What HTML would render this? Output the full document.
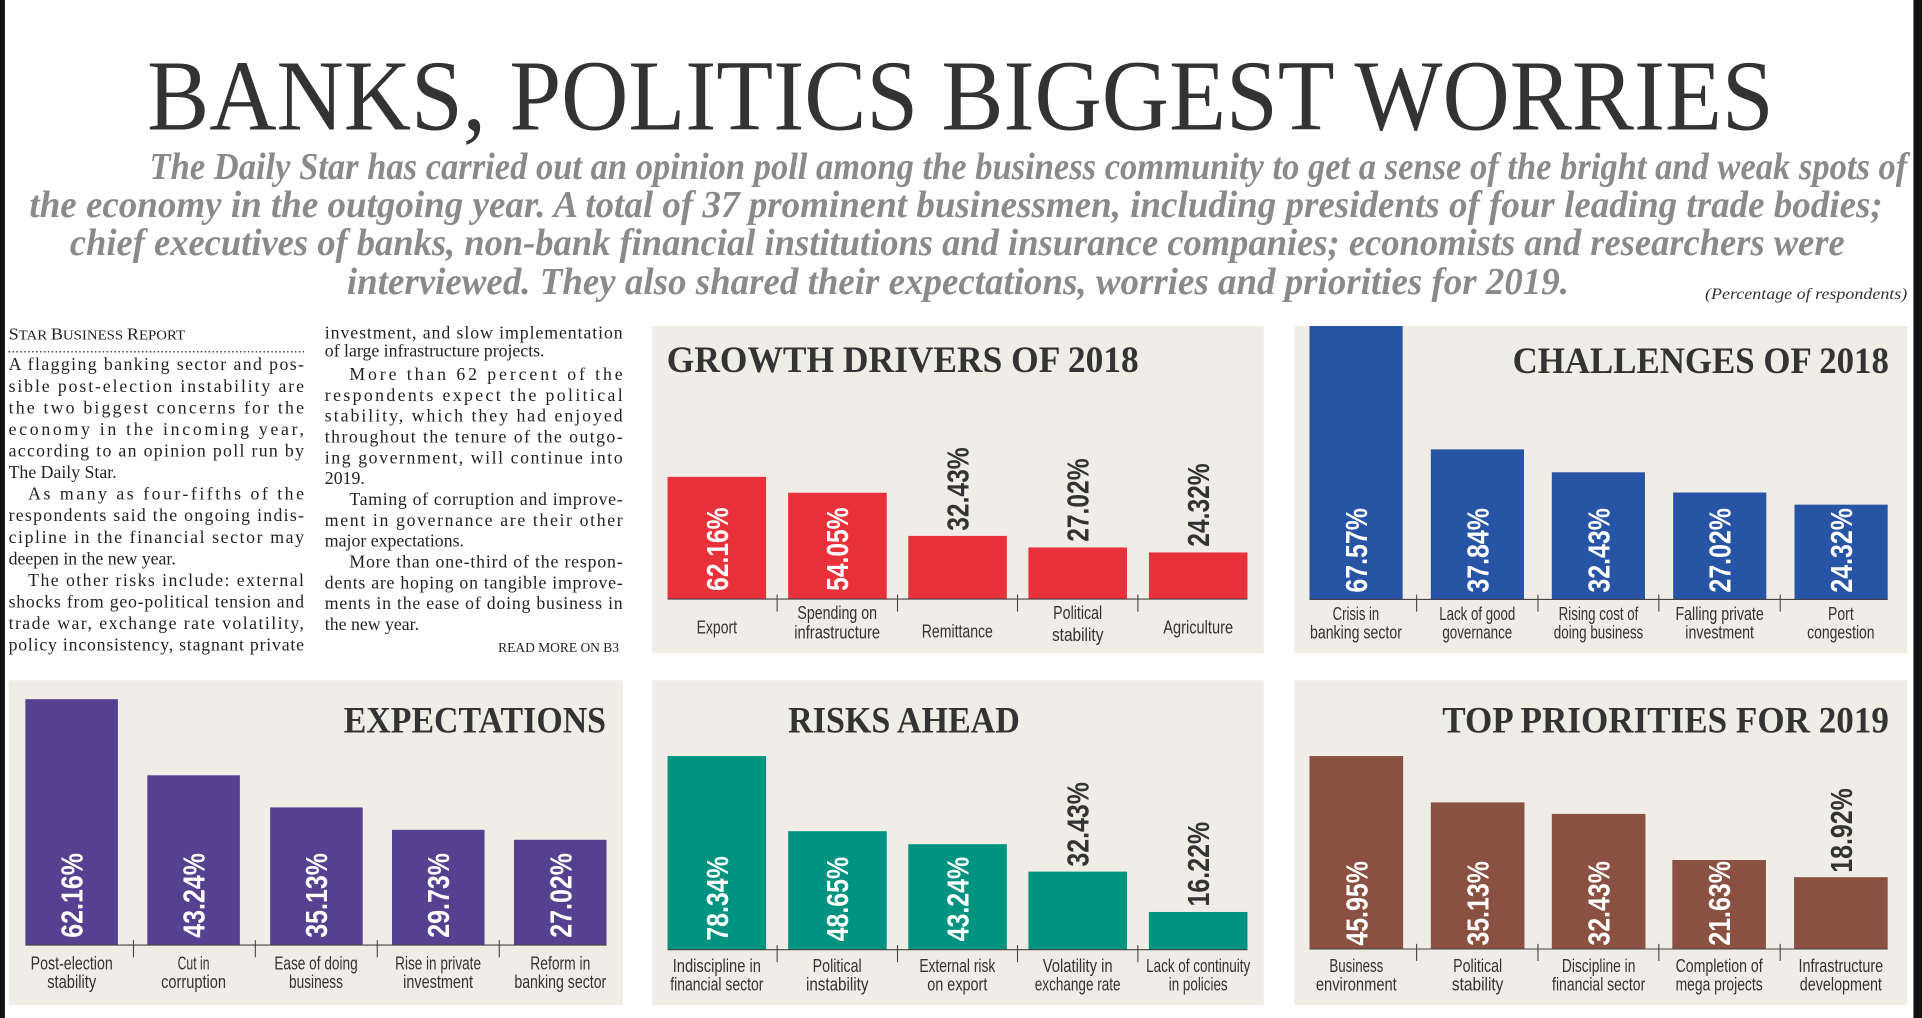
<!DOCTYPE html>
<html><head><meta charset="utf-8"><style>
html,body{margin:0;padding:0;background:#fff;}
svg{display:block;}
.ser{font-family:"Liberation Serif",serif;}
.san{font-family:"Liberation Sans Narrow","Liberation Sans",sans-serif;}
.v{font-family:"Liberation Sans",sans-serif;font-weight:bold;font-size:25px;}
.lab{font-family:"Liberation Sans Narrow","Liberation Sans",sans-serif;font-size:15px;fill:#333;text-anchor:middle;}
.tt{font-family:"Liberation Serif",serif;font-weight:bold;font-size:30px;fill:#333;}
.body{font-family:"Liberation Serif",serif;font-size:14.5px;fill:#222;}
</style></head><body>
<svg width="1922" height="1018" viewBox="0 0 1568 830.5" preserveAspectRatio="none" xmlns="http://www.w3.org/2000/svg">
<rect x="0" y="0" width="1568" height="830.5" fill="#fff"/>
<rect x="0" y="0" width="4" height="830.5" fill="#111"/>
<rect x="1561" y="0" width="7" height="830.5" fill="#111"/>

<!-- Headline -->
<text class="ser" x="120" y="105.5" font-size="82" fill="#333" textLength="1327" lengthAdjust="spacingAndGlyphs">BANKS, POLITICS BIGGEST WORRIES</text>
<g class="ser" font-style="italic" font-weight="bold" font-size="31" fill="#8a8a8a">
<text x="122" y="146" textLength="1434" lengthAdjust="spacingAndGlyphs">The Daily Star has carried out an opinion poll among the business community to get a sense of the bright and weak spots of</text>
<text x="24" y="177" textLength="1512" lengthAdjust="spacingAndGlyphs">the economy in the outgoing year. A total of 37 prominent businessmen, including presidents of four leading trade bodies;</text>
<text x="57" y="208" textLength="1448" lengthAdjust="spacingAndGlyphs">chief executives of banks, non-bank financial institutions and insurance companies; economists and researchers were</text>
<text x="283" y="240" textLength="997" lengthAdjust="spacingAndGlyphs">interviewed. They also shared their expectations, worries and priorities for 2019.</text>
</g>
<text class="ser" x="1391" y="244" font-style="italic" font-size="13" fill="#333" textLength="165" lengthAdjust="spacingAndGlyphs">(Percentage of respondents)</text>

<!-- Left text -->
<text class="ser" x="7" y="277" font-size="11.5" fill="#222" textLength="144" lengthAdjust="spacingAndGlyphs"><tspan font-size="14">S</tspan>TAR <tspan font-size="14">B</tspan>USINESS <tspan font-size="14">R</tspan>EPORT</text>
<line x1="7" y1="287" x2="248" y2="287" stroke="#444" stroke-width="1.2" stroke-dasharray="1.2 2"/>
<g class="body">
<text x="7" y="302" textLength="241" lengthAdjust="spacing">A flagging banking sector and pos-</text>
<text x="7" y="319.6" textLength="241" lengthAdjust="spacing">sible post-election instability are</text>
<text x="7" y="337.2" textLength="241" lengthAdjust="spacing">the two biggest concerns for the</text>
<text x="7" y="354.8" textLength="241" lengthAdjust="spacing">economy in the incoming year,</text>
<text x="7" y="372.4" textLength="241" lengthAdjust="spacing">according to an opinion poll run by</text>
<text x="7" y="390">The Daily Star.</text>
<text x="23" y="407.6" textLength="225" lengthAdjust="spacing">As many as four-fifths of the</text>
<text x="7" y="425.2" textLength="241" lengthAdjust="spacing">respondents said the ongoing indis-</text>
<text x="7" y="442.8" textLength="241" lengthAdjust="spacing">cipline in the financial sector may</text>
<text x="7" y="460.4">deepen in the new year.</text>
<text x="23" y="478" textLength="225" lengthAdjust="spacing">The other risks include: external</text>
<text x="7" y="495.6" textLength="241" lengthAdjust="spacing">shocks from geo-political tension and</text>
<text x="7" y="513.2" textLength="241" lengthAdjust="spacing">trade war, exchange rate volatility,</text>
<text x="7" y="530.8" textLength="241" lengthAdjust="spacing">policy inconsistency, stagnant private</text>

<text x="265" y="276" textLength="243" lengthAdjust="spacing">investment, and slow implementation</text>
<text x="265" y="291">of large infrastructure projects.</text>
<text x="285" y="310" textLength="223" lengthAdjust="spacing">More than 62 percent of the</text>
<text x="265" y="327" textLength="243" lengthAdjust="spacing">respondents expect the political</text>
<text x="265" y="344" textLength="243" lengthAdjust="spacing">stability, which they had enjoyed</text>
<text x="265" y="361" textLength="243" lengthAdjust="spacing">throughout the tenure of the outgo-</text>
<text x="265" y="378" textLength="243" lengthAdjust="spacing">ing government, will continue into</text>
<text x="265" y="395">2019.</text>
<text x="285" y="412" textLength="223" lengthAdjust="spacing">Taming of corruption and improve-</text>
<text x="265" y="429" textLength="243" lengthAdjust="spacing">ment in governance are their other</text>
<text x="265" y="446">major expectations.</text>
<text x="285" y="463" textLength="223" lengthAdjust="spacing">More than one-third of the respon-</text>
<text x="265" y="480" textLength="243" lengthAdjust="spacing">dents are hoping on tangible improve-</text>
<text x="265" y="497" textLength="243" lengthAdjust="spacing">ments in the ease of doing business in</text>
<text x="265" y="514">the new year.</text>
</g>
<text class="ser" x="505" y="532" font-size="11" fill="#222" text-anchor="end">READ MORE ON B3</text>

<!-- Panels -->
<rect x="532" y="266" width="499" height="267" fill="#efede6"/>
<rect x="1056" y="266" width="500" height="267" fill="#efede6"/>
<rect x="7" y="555" width="501" height="265" fill="#efede6"/>
<rect x="532" y="555" width="499" height="265" fill="#efede6"/>
<rect x="1056" y="555" width="500" height="265" fill="#efede6"/>

<!-- GROWTH -->
<text class="tt" x="544" y="303.5" textLength="385" lengthAdjust="spacingAndGlyphs">GROWTH DRIVERS OF 2018</text>
<g fill="#e8313b">
<rect x="544.6" y="389" width="80.4" height="99.7"/>
<rect x="643" y="402" width="80.4" height="86.7"/>
<rect x="741" y="437.2" width="80.4" height="51.5"/>
<rect x="839" y="446.6" width="80.4" height="42.1"/>
<rect x="937.3" y="450.7" width="80.4" height="38"/>
</g>
<g stroke="#444" stroke-width="0.9">
<line x1="544.6" y1="488.7" x2="1017.7" y2="488.7"/>
<line x1="634" y1="485" x2="634" y2="499"/><line x1="732.2" y1="485" x2="732.2" y2="499"/><line x1="830.1" y1="485" x2="830.1" y2="499"/><line x1="928.3" y1="485" x2="928.3" y2="499"/>
</g>
<g class="v">
<text transform="translate(593.8,482) rotate(-90)" fill="#fff" textLength="68" lengthAdjust="spacingAndGlyphs">62.16%</text>
<text transform="translate(692,482) rotate(-90)" fill="#fff" textLength="68" lengthAdjust="spacingAndGlyphs">54.05%</text>
<text transform="translate(790,433) rotate(-90)" fill="#333" textLength="68" lengthAdjust="spacingAndGlyphs">32.43%</text>
<text transform="translate(888.2,442) rotate(-90)" fill="#333" textLength="68" lengthAdjust="spacingAndGlyphs">27.02%</text>
<text transform="translate(986.5,446) rotate(-90)" fill="#333" textLength="68" lengthAdjust="spacingAndGlyphs">24.32%</text>
</g>
<g class="lab">
<text x="584.8" y="517" textLength="33" lengthAdjust="spacingAndGlyphs">Export</text>
<text x="683" y="505" textLength="65" lengthAdjust="spacingAndGlyphs">Spending on</text>
<text x="683" y="521" textLength="70" lengthAdjust="spacingAndGlyphs">infrastructure</text>
<text x="781" y="520" textLength="58" lengthAdjust="spacingAndGlyphs">Remittance</text>
<text x="879.2" y="505" textLength="40" lengthAdjust="spacingAndGlyphs">Political</text>
<text x="879.2" y="523" textLength="42" lengthAdjust="spacingAndGlyphs">stability</text>
<text x="977.5" y="517" textLength="57" lengthAdjust="spacingAndGlyphs">Agriculture</text>
</g>

<!-- CHALLENGES -->
<text class="tt" x="1234" y="304.5" textLength="307" lengthAdjust="spacingAndGlyphs">CHALLENGES OF 2018</text>
<g fill="#2754a4">
<rect x="1068.3" y="266" width="76" height="223"/>
<rect x="1167.3" y="366.6" width="76" height="122.4"/>
<rect x="1266" y="385.3" width="76" height="103.7"/>
<rect x="1365" y="401.8" width="76" height="87.2"/>
<rect x="1464" y="411.7" width="76" height="77.3"/>
</g>
<g stroke="#444" stroke-width="0.9">
<line x1="1068.3" y1="489" x2="1540" y2="489"/>
<line x1="1155.7" y1="485" x2="1155.7" y2="499"/><line x1="1254.7" y1="485" x2="1254.7" y2="499"/><line x1="1353.3" y1="485" x2="1353.3" y2="499"/><line x1="1452.3" y1="485" x2="1452.3" y2="499"/>
</g>
<g class="v" fill="#fff">
<text transform="translate(1115.2,483.5) rotate(-90)" textLength="69" lengthAdjust="spacingAndGlyphs">67.57%</text>
<text transform="translate(1214.2,483.5) rotate(-90)" textLength="69" lengthAdjust="spacingAndGlyphs">37.84%</text>
<text transform="translate(1313.1,483.5) rotate(-90)" textLength="69" lengthAdjust="spacingAndGlyphs">32.43%</text>
<text transform="translate(1411.9,483.5) rotate(-90)" textLength="69" lengthAdjust="spacingAndGlyphs">27.02%</text>
<text transform="translate(1510.8,483.5) rotate(-90)" textLength="69" lengthAdjust="spacingAndGlyphs">24.32%</text>
</g>
<g class="lab">
<text x="1106.2" y="506" textLength="38" lengthAdjust="spacingAndGlyphs">Crisis in</text>
<text x="1106.2" y="521" textLength="75" lengthAdjust="spacingAndGlyphs">banking sector</text>
<text x="1205.2" y="506" textLength="62" lengthAdjust="spacingAndGlyphs">Lack of good</text>
<text x="1205.2" y="521" textLength="57" lengthAdjust="spacingAndGlyphs">governance</text>
<text x="1304.1" y="506" textLength="65" lengthAdjust="spacingAndGlyphs">Rising cost of</text>
<text x="1304.1" y="521" textLength="73" lengthAdjust="spacingAndGlyphs">doing business</text>
<text x="1402.9" y="506" textLength="72" lengthAdjust="spacingAndGlyphs">Falling private</text>
<text x="1402.9" y="521" textLength="56" lengthAdjust="spacingAndGlyphs">investment</text>
<text x="1501.8" y="506" textLength="21" lengthAdjust="spacingAndGlyphs">Port</text>
<text x="1501.8" y="521" textLength="55" lengthAdjust="spacingAndGlyphs">congestion</text>
</g>

<!-- EXPECTATIONS -->
<text class="tt" x="280.4" y="597.4" textLength="214" lengthAdjust="spacingAndGlyphs">EXPECTATIONS</text>
<g fill="#55418f">
<rect x="20.7" y="570.4" width="75.5" height="200.6"/>
<rect x="120.2" y="632.5" width="75.5" height="138.5"/>
<rect x="220.4" y="658.7" width="75.5" height="112.3"/>
<rect x="319.8" y="677" width="75.5" height="94"/>
<rect x="419.3" y="685.1" width="75.5" height="85.9"/>
</g>
<g stroke="#444" stroke-width="0.9">
<line x1="20.7" y1="771" x2="494.8" y2="771"/>
<line x1="108.9" y1="767" x2="108.9" y2="781"/><line x1="208.3" y1="767" x2="208.3" y2="781"/><line x1="307.8" y1="767" x2="307.8" y2="781"/><line x1="407.3" y1="767" x2="407.3" y2="781"/>
</g>
<g class="v" fill="#fff">
<text transform="translate(67.5,765) rotate(-90)" textLength="69" lengthAdjust="spacingAndGlyphs">62.16%</text>
<text transform="translate(166.9,765) rotate(-90)" textLength="69" lengthAdjust="spacingAndGlyphs">43.24%</text>
<text transform="translate(266.8,765) rotate(-90)" textLength="69" lengthAdjust="spacingAndGlyphs">35.13%</text>
<text transform="translate(366.4,765) rotate(-90)" textLength="69" lengthAdjust="spacingAndGlyphs">29.73%</text>
<text transform="translate(466.1,765) rotate(-90)" textLength="69" lengthAdjust="spacingAndGlyphs">27.02%</text>
</g>
<g class="lab">
<text x="58.5" y="791" textLength="67" lengthAdjust="spacingAndGlyphs">Post-election</text>
<text x="58.5" y="806" textLength="40" lengthAdjust="spacingAndGlyphs">stability</text>
<text x="157.9" y="791" textLength="26" lengthAdjust="spacingAndGlyphs">Cut in</text>
<text x="157.9" y="806" textLength="53" lengthAdjust="spacingAndGlyphs">corruption</text>
<text x="257.8" y="791" textLength="68" lengthAdjust="spacingAndGlyphs">Ease of doing</text>
<text x="257.8" y="806" textLength="44" lengthAdjust="spacingAndGlyphs">business</text>
<text x="357.4" y="791" textLength="70" lengthAdjust="spacingAndGlyphs">Rise in private</text>
<text x="357.4" y="806" textLength="57" lengthAdjust="spacingAndGlyphs">investment</text>
<text x="457.1" y="791" textLength="49" lengthAdjust="spacingAndGlyphs">Reform in</text>
<text x="457.1" y="806" textLength="75" lengthAdjust="spacingAndGlyphs">banking sector</text>
</g>

<!-- RISKS -->
<text class="tt" x="643" y="597.4" textLength="189" lengthAdjust="spacingAndGlyphs">RISKS AHEAD</text>
<g fill="#009380">
<rect x="544.6" y="616.8" width="80.4" height="158"/>
<rect x="643" y="678.1" width="80.4" height="96.7"/>
<rect x="741" y="688.7" width="80.4" height="86.1"/>
<rect x="839" y="711.1" width="80.4" height="63.7"/>
<rect x="937.3" y="744" width="80.4" height="30.8"/>
</g>
<g stroke="#444" stroke-width="0.9">
<line x1="544.6" y1="774.8" x2="1017.7" y2="774.8"/>
<line x1="634" y1="771" x2="634" y2="785"/><line x1="732.2" y1="771" x2="732.2" y2="785"/><line x1="830.1" y1="771" x2="830.1" y2="785"/><line x1="928.3" y1="771" x2="928.3" y2="785"/>
</g>
<g class="v">
<text transform="translate(593.8,767.5) rotate(-90)" fill="#fff" textLength="69" lengthAdjust="spacingAndGlyphs">78.34%</text>
<text transform="translate(692,768) rotate(-90)" fill="#fff" textLength="69" lengthAdjust="spacingAndGlyphs">48.65%</text>
<text transform="translate(790,768) rotate(-90)" fill="#fff" textLength="69" lengthAdjust="spacingAndGlyphs">43.24%</text>
<text transform="translate(888.2,707) rotate(-90)" fill="#333" textLength="69" lengthAdjust="spacingAndGlyphs">32.43%</text>
<text transform="translate(986.5,739.5) rotate(-90)" fill="#333" textLength="69" lengthAdjust="spacingAndGlyphs">16.22%</text>
</g>
<g class="lab">
<text x="584.8" y="793" textLength="72" lengthAdjust="spacingAndGlyphs">Indiscipline in</text>
<text x="584.8" y="808" textLength="76" lengthAdjust="spacingAndGlyphs">financial sector</text>
<text x="683" y="793" textLength="40" lengthAdjust="spacingAndGlyphs">Political</text>
<text x="683" y="808" textLength="51" lengthAdjust="spacingAndGlyphs">instability</text>
<text x="781" y="793" textLength="62" lengthAdjust="spacingAndGlyphs">External risk</text>
<text x="781" y="808" textLength="49" lengthAdjust="spacingAndGlyphs">on export</text>
<text x="879.2" y="793" textLength="57" lengthAdjust="spacingAndGlyphs">Volatility in</text>
<text x="879.2" y="808" textLength="70" lengthAdjust="spacingAndGlyphs">exchange rate</text>
<text x="977.5" y="793" textLength="85" lengthAdjust="spacingAndGlyphs">Lack of continuity</text>
<text x="977.5" y="808" textLength="48" lengthAdjust="spacingAndGlyphs">in policies</text>
</g>

<!-- PRIORITIES -->
<text class="tt" x="1176.6" y="597.4" textLength="364.4" lengthAdjust="spacingAndGlyphs">TOP PRIORITIES FOR 2019</text>
<g fill="#8a5142">
<rect x="1068.3" y="616.8" width="76.4" height="157.4"/>
<rect x="1167.3" y="654.6" width="76.4" height="119.6"/>
<rect x="1266" y="664" width="76.4" height="110.2"/>
<rect x="1364.3" y="701.6" width="76.4" height="72.6"/>
<rect x="1463.6" y="715.6" width="76.4" height="58.6"/>
</g>
<g stroke="#444" stroke-width="0.9">
<line x1="1068.3" y1="774.2" x2="1540" y2="774.2"/>
<line x1="1155.7" y1="770" x2="1155.7" y2="784"/><line x1="1254.7" y1="770" x2="1254.7" y2="784"/><line x1="1353.3" y1="770" x2="1353.3" y2="784"/><line x1="1452.3" y1="770" x2="1452.3" y2="784"/>
</g>
<g class="v">
<text transform="translate(1115.5,771.5) rotate(-90)" fill="#fff" textLength="69" lengthAdjust="spacingAndGlyphs">45.95%</text>
<text transform="translate(1214.5,771.5) rotate(-90)" fill="#fff" textLength="69" lengthAdjust="spacingAndGlyphs">35.13%</text>
<text transform="translate(1313.2,771.5) rotate(-90)" fill="#fff" textLength="69" lengthAdjust="spacingAndGlyphs">32.43%</text>
<text transform="translate(1411.5,771.5) rotate(-90)" fill="#fff" textLength="69" lengthAdjust="spacingAndGlyphs">21.63%</text>
<text transform="translate(1510.8,712) rotate(-90)" fill="#333" textLength="69" lengthAdjust="spacingAndGlyphs">18.92%</text>
</g>
<g class="lab">
<text x="1106.5" y="793" textLength="44" lengthAdjust="spacingAndGlyphs">Business</text>
<text x="1106.5" y="808" textLength="66" lengthAdjust="spacingAndGlyphs">environment</text>
<text x="1205.5" y="793" textLength="40" lengthAdjust="spacingAndGlyphs">Political</text>
<text x="1205.5" y="808" textLength="42" lengthAdjust="spacingAndGlyphs">stability</text>
<text x="1304.2" y="793" textLength="60" lengthAdjust="spacingAndGlyphs">Discipline in</text>
<text x="1304.2" y="808" textLength="76" lengthAdjust="spacingAndGlyphs">financial sector</text>
<text x="1402.5" y="793" textLength="71" lengthAdjust="spacingAndGlyphs">Completion of</text>
<text x="1402.5" y="808" textLength="71" lengthAdjust="spacingAndGlyphs">mega projects</text>
<text x="1501.8" y="793" textLength="69" lengthAdjust="spacingAndGlyphs">Infrastructure</text>
<text x="1501.8" y="808" textLength="67" lengthAdjust="spacingAndGlyphs">development</text>
</g>
</svg>
</body></html>
